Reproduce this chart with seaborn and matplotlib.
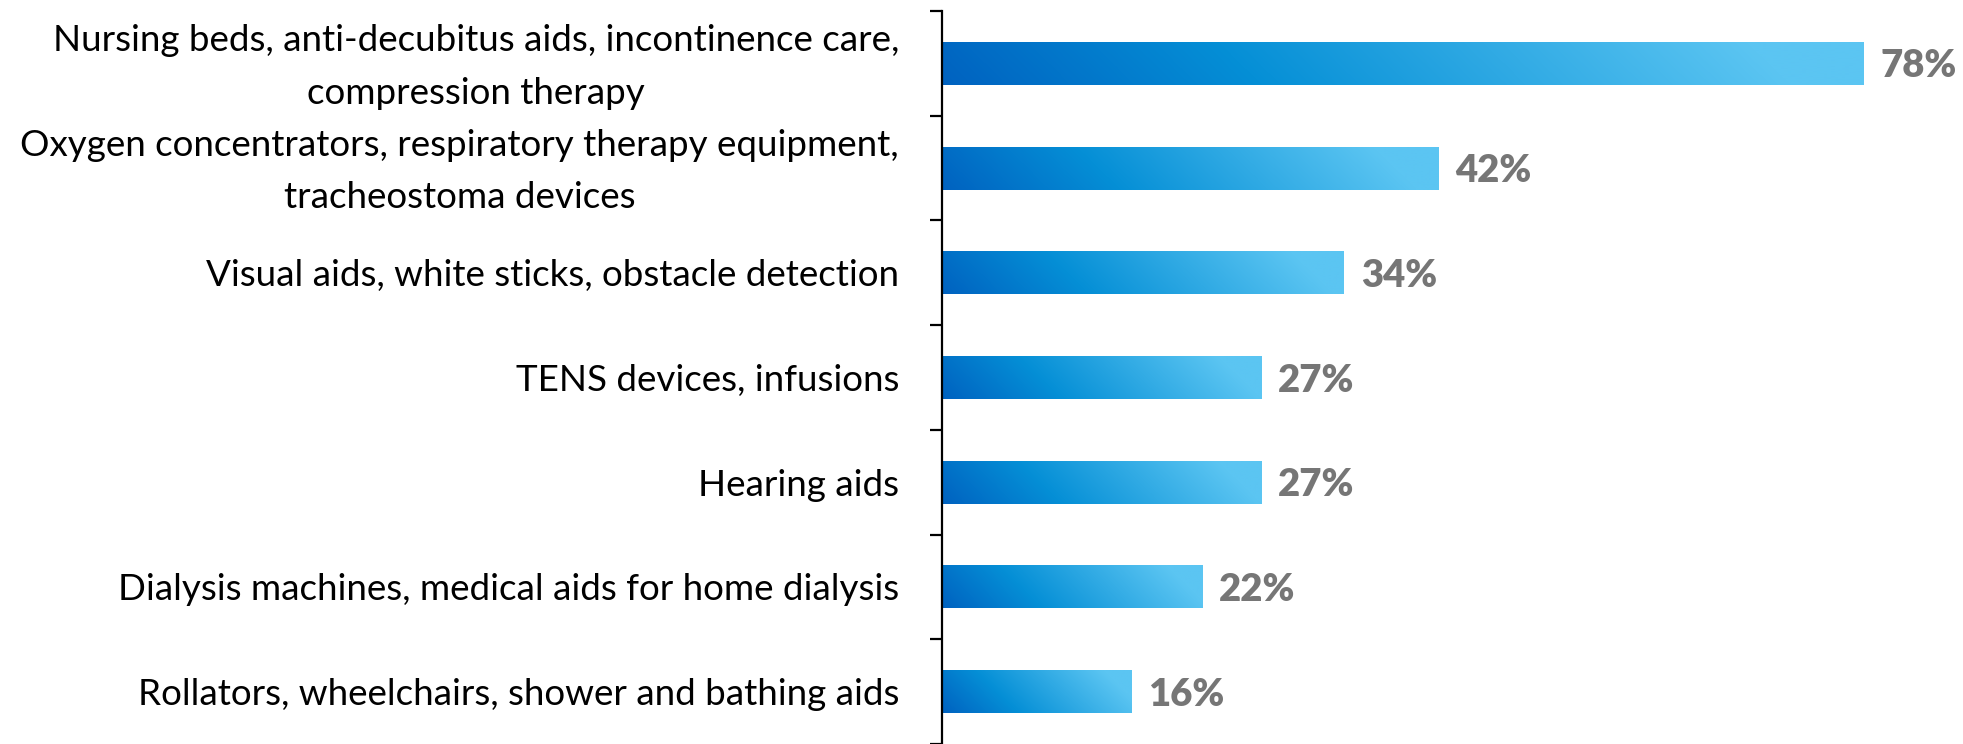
import numpy as np
import seaborn as sns
import matplotlib.pyplot as plt
import matplotlib.transforms as mtransforms
from matplotlib.colors import LinearSegmentedColormap

categories = [
    "Nursing beds, anti-decubitus aids, incontinence care,\ncompression therapy",
    "Oxygen concentrators, respiratory therapy equipment,\ntracheostoma devices",
    "Visual aids, white sticks, obstacle detection",
    "TENS devices, infusions",
    "Hearing aids",
    "Dialysis machines, medical aids for home dialysis",
    "Rollators, wheelchairs, shower and bathing aids",
]
values = [78, 42, 34, 27, 27, 22, 16]
value_labels = ["78%", "42%", "34%", "27%", "27%", "22%", "16%"]

sns.set_style("white")
plt.rcParams["font.family"] = ["Lato", "DejaVu Sans"]

fig = plt.figure(figsize=(19.63, 7.44), dpi=100)
ax = fig.add_axes([942 / 1963, 0, 1 - 942 / 1963, 1 - 11 / 744])

sns.barplot(x=values, y=categories, orient="h", width=0.41, ax=ax)
ax.set_xlim(0, (1963 - 942) / 11.82)
ax.set_ylim(6.5, -0.5)

# gradient fill, 45 degrees in pixel space, lighter toward top right
cmap = LinearSegmentedColormap.from_list(
    "bar", [(0, "#0062C0"), (0.33, "#058FD6"), (0.88, "#5BC5F2"), (1, "#5BC5F2")])
px_per_x = ax.transData.transform((1, 0))[0] - ax.transData.transform((0, 0))[0]
px_per_y = abs(ax.transData.transform((0, 1))[1] - ax.transData.transform((0, 0))[1])
for patch in ax.patches:
    x0, y0 = patch.get_x(), patch.get_y()
    w, h = patch.get_width(), patch.get_height()
    wp, hp = w * px_per_x, h * px_per_y
    nx, ny = max(int(wp), 2), max(int(hp), 2)
    xs = np.linspace(0, wp, nx)
    ys = np.linspace(hp, 0, ny)  # row 0 at top of bar
    X, Y = np.meshgrid(xs, ys)
    t = (X + Y) / (wp + hp)
    patch.set_facecolor("none")
    patch.set_edgecolor("none")
    img = ax.imshow(t, cmap=cmap, vmin=0, vmax=1, aspect="auto",
                    extent=(x0, x0 + w, y0 + h, y0), origin="upper",
                    interpolation="bilinear", zorder=2)
    img.set_clip_path(patch)
ax.set_xlim(0, (1963 - 942) / 11.82)
ax.set_ylim(6.5, -0.5)

for i, (v, lab) in enumerate(zip(values, value_labels)):
    ax.text(v + 17 / 11.82, i, lab, va="center_baseline", ha="left",
            fontsize=27.5, fontweight="heavy", color="#767676")

# category labels, drawn as text so the two-line ones can be placed by hand
blend = mtransforms.blended_transform_factory(ax.transAxes, ax.transData)
for i, cat in enumerate(categories):
    two_lines = "\n" in cat
    dy = -3.5 / 100 if two_lines else 0
    off = mtransforms.ScaledTranslation(-43 / 100, dy, fig.dpi_scale_trans)
    ax.text(0, i, cat, transform=blend + off, ha="right",
            va="center" if two_lines else "center_baseline",
            multialignment="center", linespacing=1.72, fontsize=26.5, color="black")

for side in ["top", "right", "bottom"]:
    ax.spines[side].set_visible(False)
ax.spines["left"].set_linewidth(1.6)
ax.spines["left"].set_color("black")
ax.set_xticks([])
ax.set_yticks(range(len(categories)))
ax.set_yticklabels([])
ax.set_yticks(np.arange(-0.5, 7, 1), minor=True)
ax.tick_params(axis="y", which="major", length=0)
ax.tick_params(axis="y", which="minor", length=8.6, width=1.6, color="black", left=True)
ax.set_xlabel("")
ax.set_ylabel("")

plt.savefig("out.png", dpi=100)
